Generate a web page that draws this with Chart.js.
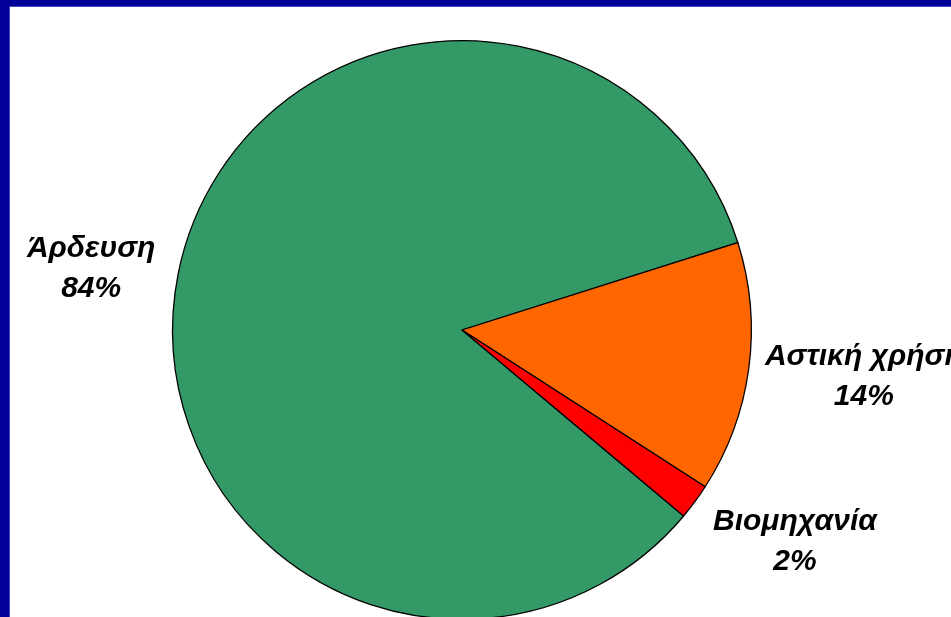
<!DOCTYPE html>
<html>
<head>
<meta charset="utf-8">
<script src="https://cdn.jsdelivr.net/npm/chart.js@4"></script>
<style>
  html, body { margin: 0; padding: 0; background: #fff; overflow: hidden; }
  body { width: 951px; height: 617px; position: relative; }
  #wrap { position: absolute; left: 0; top: 0; width: 951px; height: 680px; }
  .frame { position: absolute; background: #000099; z-index: 2; }
  .edge { position: absolute; background: #4646c8; z-index: 2; }
</style>
</head>
<body>
<div class="frame" style="left:0;top:0;width:951px;height:6px"></div>
<div class="frame" style="left:0;top:0;width:9px;height:617px"></div>
<div class="edge" style="left:9px;top:6px;width:942px;height:1px"></div>
<div class="edge" style="left:9px;top:6px;width:1px;height:611px"></div>
<div id="wrap"><canvas id="pie" width="951" height="680"></canvas></div>
<script>
// Κατανάλωση νερού ανά χρήση
const categories = ['Άρδευση', 'Αστική χρήση', 'Βιομηχανία'];
const shares = [84, 14, 2];
const sliceColors = ['#339966', '#ff6600', '#ff0000'];

// label anchor, relative to the middle of each slice's rim
const labelOffsets = [[-87, -17], [115, -3], [100, 28]];

const sliceLabels = {
  id: 'sliceLabels',
  afterDatasetsDraw(chart) {
    const ctx = chart.ctx;
    const arcs = chart.getDatasetMeta(0).data;
    ctx.save();
    ctx.font = 'italic bold 30px "Liberation Sans", Arial, sans-serif';
    ctx.fillStyle = '#000';
    ctx.textAlign = 'center';
    ctx.textBaseline = 'alphabetic';
    arcs.forEach((arc, i) => {
      const p = arc.getProps(['x', 'y', 'startAngle', 'endAngle', 'outerRadius'], true);
      const mid = (p.startAngle + p.endAngle) / 2;
      const x = p.x + Math.cos(mid) * p.outerRadius + labelOffsets[i][0];
      const y = p.y + Math.sin(mid) * p.outerRadius + labelOffsets[i][1];
      ctx.fillText(categories[i], x, y);
      ctx.fillText(shares[i] + '%', x, y + 40);
    });
    ctx.restore();
  }
};

new Chart(document.getElementById('pie'), {
  type: 'pie',
  data: {
    labels: categories,
    datasets: [{
      data: shares,
      backgroundColor: sliceColors,
      borderColor: '#000',
      borderWidth: 1.3,
      hoverOffset: 0
    }]
  },
  options: {
    responsive: false,
    animation: false,
    rotation: 130,
    layout: { padding: { left: 172, right: 199, top: 40, bottom: 60 } },
    plugins: {
      legend: { display: false },
      tooltip: { enabled: false }
    }
  },
  plugins: [sliceLabels]
});
</script>
</body>
</html>
